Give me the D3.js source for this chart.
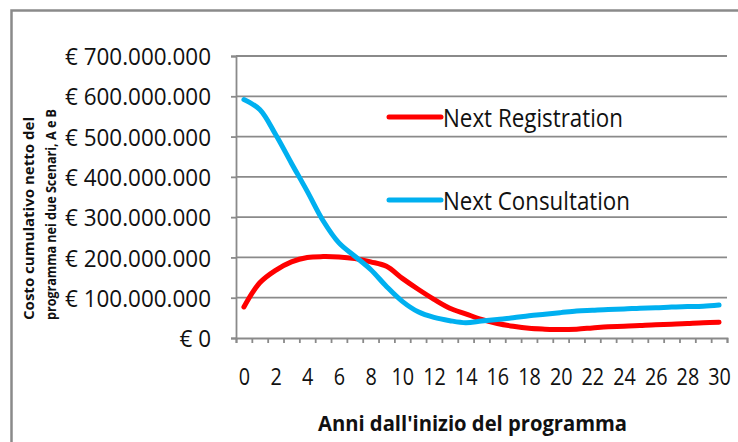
<!DOCTYPE html>
<html>
<head>
<meta charset="utf-8">
<script src="https://cdn.jsdelivr.net/npm/d3@7"></script>
<style>
  body { margin: 0; background: #fff; }
  text { font-family: "Open Sans", sans-serif; fill: #111; }
</style>
</head>
<body>
<div id="chart"></div>
<script>
// anni 0..30
const years = [0, 1, 2, 3, 4, 5, 6, 7, 8, 9, 10, 11, 12, 13, 14, 15, 16, 17, 18, 19, 20, 21, 22, 23, 24, 25, 26, 27, 28, 29, 30];
// costo cumulativo, milioni di euro
const registration = [77, 137, 168, 189, 200, 202, 201, 197, 189, 178, 148, 121, 96, 74, 60, 46, 36, 29, 24, 22, 21, 22, 25, 28, 29, 31, 33, 34, 36, 38, 39];
const consultation = [592, 567, 505, 434, 364, 291, 236, 203, 170, 128, 91, 65, 51, 43, 38, 42, 46, 50, 55, 59, 63, 67, 69, 71, 72, 74, 75, 77, 78, 79, 82];
const seriesNames = ["Next Registration", "Next Consultation"];
const seriesColors = ["#ff0000", "#00b0f0"];
const yTicks = [0, 100, 200, 300, 400, 500, 600, 700];
const yTickLabels = ["€ 0", "€ 100.000.000", "€ 200.000.000", "€ 300.000.000", "€ 400.000.000", "€ 500.000.000", "€ 600.000.000", "€ 700.000.000"];
const xTickYears = [0, 2, 4, 6, 8, 10, 12, 14, 16, 18, 20, 22, 24, 26, 28, 30];
const yTitle = ["Costo cumulativo netto del", "programma nei due Scenari, A e B"];
const xTitle = "Anni dall'inizio del programma";

const width = 738, height = 442;
const grey = "#8a8a8a";

const svg = d3.select("#chart").append("svg")
    .attr("width", width)
    .attr("height", height);

// cornice
svg.append("rect")
    .attr("x", 11.5).attr("y", 10.5)
    .attr("width", 800).attr("height", 500)
    .attr("fill", "#fff")
    .attr("stroke", grey)
    .attr("stroke-width", 2.5);

const x = d3.scaleLinear().domain([-0.5, 30.5]).range([236, 727]);
const y = d3.scaleLinear().domain([0, 700]).range([338, 56]);

// squeeze text to a target width
function fitWidth(sel, w) {
    sel.each(function() {
        this.setAttribute("textLength", w);
        this.setAttribute("lengthAdjust", "spacingAndGlyphs");
    });
}
function scaleWidth(sel, k) {
    sel.each(function() {
        let len = this.getComputedTextLength();
        this.setAttribute("textLength", len * k);
        this.setAttribute("lengthAdjust", "spacingAndGlyphs");
    });
}

// griglia
svg.append("g")
    .selectAll("line")
    .data(yTicks.filter(d => d > 0))
    .enter().append("line")
    .attr("x1", x(-0.5)).attr("x2", x(30.5))
    .attr("y1", d => y(d)).attr("y2", d => y(d))
    .attr("stroke", grey)
    .attr("stroke-width", 1.8);

// asse y
const yAxis = svg.append("g")
    .attr("transform", `translate(${x(-0.5)},0)`)
    .call(d3.axisLeft(y).tickValues(yTicks).tickSize(5).tickPadding(20)
        .tickFormat((d, i) => yTickLabels[i]));
yAxis.select(".domain").attr("stroke", grey).attr("stroke-width", 1.8);
yAxis.selectAll(".tick line").attr("stroke", grey).attr("stroke-width", 1.8);
yAxis.selectAll("text")
    .attr("font-size", 24)
    .attr("font-family", "Open Sans")
    .attr("fill", "#111")
    .attr("dy", "0.36em");
{
    let ref = yAxis.selectAll("text").filter((d, i) => i === 7).node().getComputedTextLength();
    scaleWidth(yAxis.selectAll("text"), 146 / ref);
}

// asse x: tacche ai confini delle categorie
const boundaries = years.map(d => d - 0.5).concat([30.5]);
const xAxis = svg.append("g")
    .attr("transform", `translate(0,${y(0)})`)
    .call(d3.axisBottom(x).tickValues(boundaries).tickSize(5).tickFormat(""));
xAxis.select(".domain").attr("stroke", grey).attr("stroke-width", 1.8);
xAxis.selectAll(".tick line").attr("stroke", grey).attr("stroke-width", 1.8);

const xLabels = svg.append("g")
    .attr("transform", `translate(0,${y(0)})`)
    .call(d3.axisBottom(x).tickValues(xTickYears).tickSize(0).tickPadding(0));
xLabels.select(".domain").remove();
xLabels.selectAll("text")
    .attr("font-size", 23)
    .attr("font-family", "Open Sans")
    .attr("fill", "#111")
    .attr("y", 47)
    .attr("dy", 0);
scaleWidth(xLabels.selectAll("text"), 0.86);

// linee
const line = d3.line()
    .x((d, i) => x(years[i]))
    .y(d => y(d))
    .curve(d3.curveCatmullRom.alpha(0.5));

[registration, consultation].forEach((s, k) => {
    svg.append("path")
        .datum(s)
        .attr("fill", "none")
        .attr("stroke", seriesColors[k])
        .attr("stroke-width", 5)
        .attr("stroke-linejoin", "round")
        .attr("stroke-linecap", "round")
        .attr("d", line);
});

// legenda
const legend = svg.append("g");
const legendY = [117, 200];
const legendW = [180, 187];
seriesNames.forEach((name, k) => {
    legend.append("line")
        .attr("x1", 389).attr("x2", 441)
        .attr("y1", legendY[k]).attr("y2", legendY[k])
        .attr("stroke", seriesColors[k])
        .attr("stroke-width", 5)
        .attr("stroke-linecap", "round");
    legend.append("text")
        .attr("x", 443)
        .attr("y", legendY[k] + 10)
        .attr("font-size", 25)
        .text(name)
        .call(fitWidth, legendW[k]);
});

// titoli
svg.append("text")
    .attr("x", 318)
    .attr("y", 431)
    .attr("font-size", 22)
    .attr("font-weight", "bold")
    .text(xTitle)
    .call(fitWidth, 309);

const yt = svg.append("g");
yt.append("text")
    .attr("transform", "translate(34,320) rotate(-90)")
    .attr("font-size", 15)
    .attr("font-weight", "bold")
    .text(yTitle[0])
    .call(fitWidth, 203);
yt.append("text")
    .attr("transform", "translate(56,320) rotate(-90)")
    .attr("font-size", 15)
    .attr("font-weight", "bold")
    .text(yTitle[1])
    .call(fitWidth, 211);
</script>
</body>
</html>
